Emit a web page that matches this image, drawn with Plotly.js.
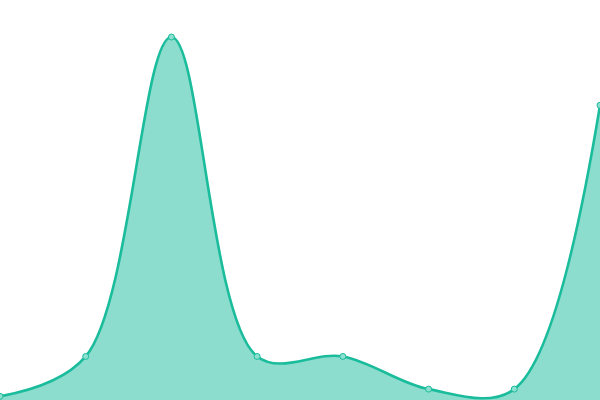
<!DOCTYPE html>
<html>
<head>
<meta charset="utf-8">
<script src="https://cdn.plot.ly/plotly-3.0.1.min.js"></script>
<style>
  html, body { margin: 0; padding: 0; background: #fff; }
  #chart { width: 600px; height: 400px; }
</style>
</head>
<body>
<div id="chart"></div>
<script>
var labels = ["A", "B", "C", "D", "E", "F", "G", "H"];
var values = [1, 12, 100, 12, 12, 3, 3, 81.2];

var trace = {
  type: "scatter",
  mode: "lines+markers",
  x: labels,
  y: values,
  fill: "tozeroy",
  fillcolor: "rgba(26,188,156,0.5)",
  line: {shape: "spline", smoothing: 1, color: "#1abc9c", width: 2.6},
  marker: {size: 6, color: "#8de0cf", line: {color: "#1abc9c", width: 1}},
  cliponaxis: false,
  hoverinfo: "none"
};

var layout = {
  width: 600,
  height: 400,
  margin: {l: 0, r: 0, t: 0, b: 0},
  paper_bgcolor: "#ffffff",
  plot_bgcolor: "#ffffff",
  showlegend: false,
  xaxis: {visible: false, range: [0, 7]},
  yaxis: {visible: false, range: [0, 110.2]}
};

Plotly.newPlot("chart", [trace], layout, {displayModeBar: false, staticPlot: true});
</script>
</body>
</html>
